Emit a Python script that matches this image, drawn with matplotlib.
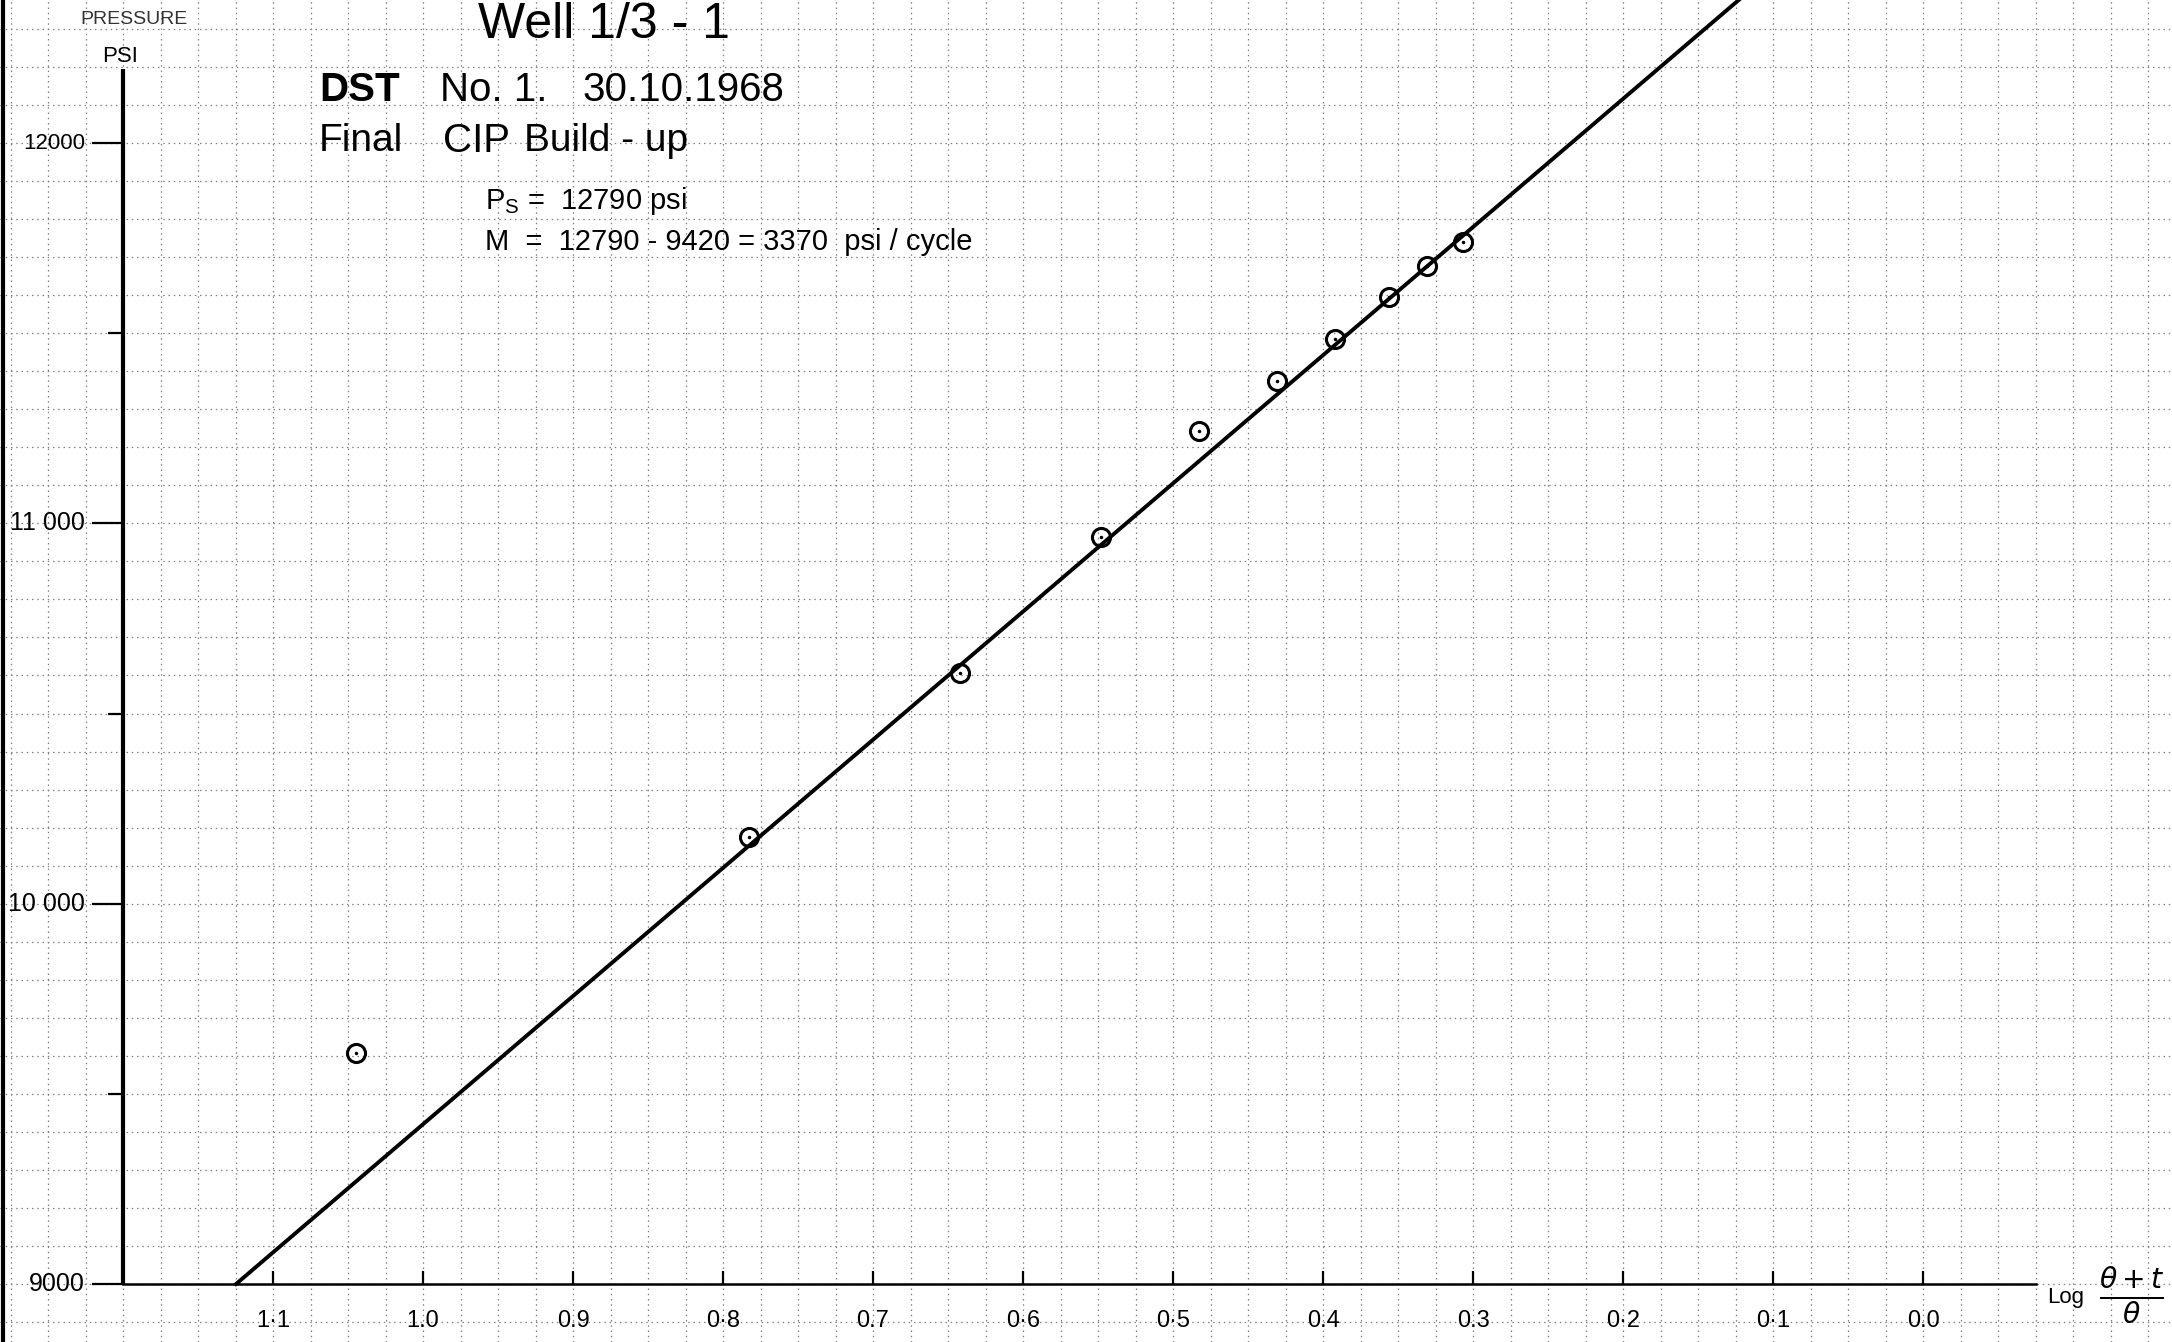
import numpy as np
import matplotlib
matplotlib.use('Agg')
import matplotlib.pyplot as plt
from matplotlib.lines import Line2D

# ---- data ----
log_ratio = [1.045, 0.783, 0.642, 0.548, 0.483, 0.431, 0.392, 0.356, 0.331, 0.307]
pressure = [9607, 10175, 10607, 10963, 11243, 11375, 11484, 11596, 11677, 11739]
p_star = 12790          # extrapolated pressure (psi)
slope_m = 3370          # psi / cycle
x_ticks = [1.1, 1.0, 0.9, 0.8, 0.7, 0.6, 0.5, 0.4, 0.3, 0.2, 0.1, 0.0]
x_tick_labels = ['1·1', '1.0', '0.9', '0·8', '0.7', '0·6', '0·5', '0.4', '0.3', '0·2', '0·1', '0.0']
y_major = [9000, 10000, 11000, 12000]
y_major_labels = ['9000', '10 000', '11 000', '12000']
y_label_sizes = [18, 18, 18, 16]
y_minor = [9500, 10500, 11500]

plt.rcParams['font.family'] = ['Liberation Sans', 'DejaVu Sans']
NARROW = ['Liberation Sans Narrow', 'Liberation Sans', 'DejaVu Sans']

W, H = 2172, 1342
fig = plt.figure(figsize=(W / 100, H / 100), dpi=100)
fig.patch.set_facecolor('white')
ax = fig.add_axes([0, 0, 1, 1])
ax.set_xlim(1.282, -0.166)
ax.set_ylim(8847.5, 12376)
ax.axis('off')


def fx(px):
    return px / W


def fy(py):
    return 1 - py / H


# graph-paper grid
for gx in np.arange(-0.175, 1.30, 0.025):
    ax.axvline(gx, color='0.5', lw=0.9, ls=(0, (1.2, 3.0)), zorder=0)
for gy in np.arange(8800, 12400, 100):
    ax.axhline(gy, color='0.5', lw=0.9, ls=(0, (1.2, 3.0)), zorder=0)

# axes lines
ax.plot([1.2, 1.2], [9000, 12195], color='k', lw=3, solid_capstyle='butt', zorder=3)
ax.plot([1.2, -0.075], [9000, 9000], color='k', lw=1.8, zorder=3)

# y ticks and labels
ax.hlines(y_major, 1.2207, 1.2, color='k', lw=1.6, zorder=3)
ax.hlines(y_minor, 1.210, 1.2, color='k', lw=1.6, zorder=3)
for yv, lab, fs in zip(y_major, y_major_labels, y_label_sizes):
    ax.text(1.2253, yv, lab, ha='right', va='center', fontsize=fs, color='k')

# x ticks and labels
ax.vlines(x_ticks, 9000, 9034, color='k', lw=1.6, zorder=3)
for xv, lab in zip(x_ticks, x_tick_labels):
    ax.text(xv, 8902, lab, ha='center', va='center', fontsize=17, color='k')

# fitted straight line
x_start = (p_star - 9000) / slope_m
xs = np.array([x_start, 0.05])
ax.plot(xs, p_star - slope_m * xs, color='k', lw=2.8, zorder=4)

# measured points
ax.plot(log_ratio, pressure, 'o', ms=13, mfc='none', mec='k', mew=2.2, zorder=5)
ax.plot(log_ratio, pressure, '.', ms=3, color='k', zorder=5)

# texts
fig.text(fx(604), fy(38), 'Well 1/3 - 1', ha='center', va='baseline',
         fontsize=36, family=NARROW, color='k')
fig.text(fx(134), fy(19), 'PRESSURE', ha='center', va='center', fontsize=14, color='0.2')
fig.text(fx(120), fy(56), 'PSI', ha='center', va='center', fontsize=16, color='k')

fig.text(fx(319), fy(90), 'DST', ha='left', va='center', fontsize=29, weight='bold')
fig.text(fx(440), fy(90), 'No. 1.', ha='left', va='center', fontsize=29)
fig.text(fx(582), fy(90), '30.10.1968', ha='left', va='center', fontsize=29)

fig.text(fx(319), fy(141), 'Final', ha='left', va='center', fontsize=28)
fig.text(fx(443), fy(141), 'CIP', ha='left', va='center', fontsize=29)
fig.text(fx(524), fy(141), 'Build - up', ha='left', va='center', fontsize=28)

fig.text(fx(485), fy(201), r'P$_\mathregular{S}$ =  12790 psi', ha='left', va='center', fontsize=21)
fig.text(fx(485), fy(242), 'M  =  12790 - 9420 = 3370  psi / cycle', ha='left', va='center', fontsize=21)

fig.text(fx(2047), fy(1297), 'Log', ha='left', va='center', fontsize=16)
fig.text(fx(2132), fy(1296), r'$\frac{\theta + t}{\theta}$', ha='center', va='center', fontsize=29)

# left scan border
fig.add_artist(Line2D([0.0015, 0.0015], [0, 1], transform=fig.transFigure, color='k', lw=3))

fig.savefig('out.png', dpi=100, facecolor='white')
